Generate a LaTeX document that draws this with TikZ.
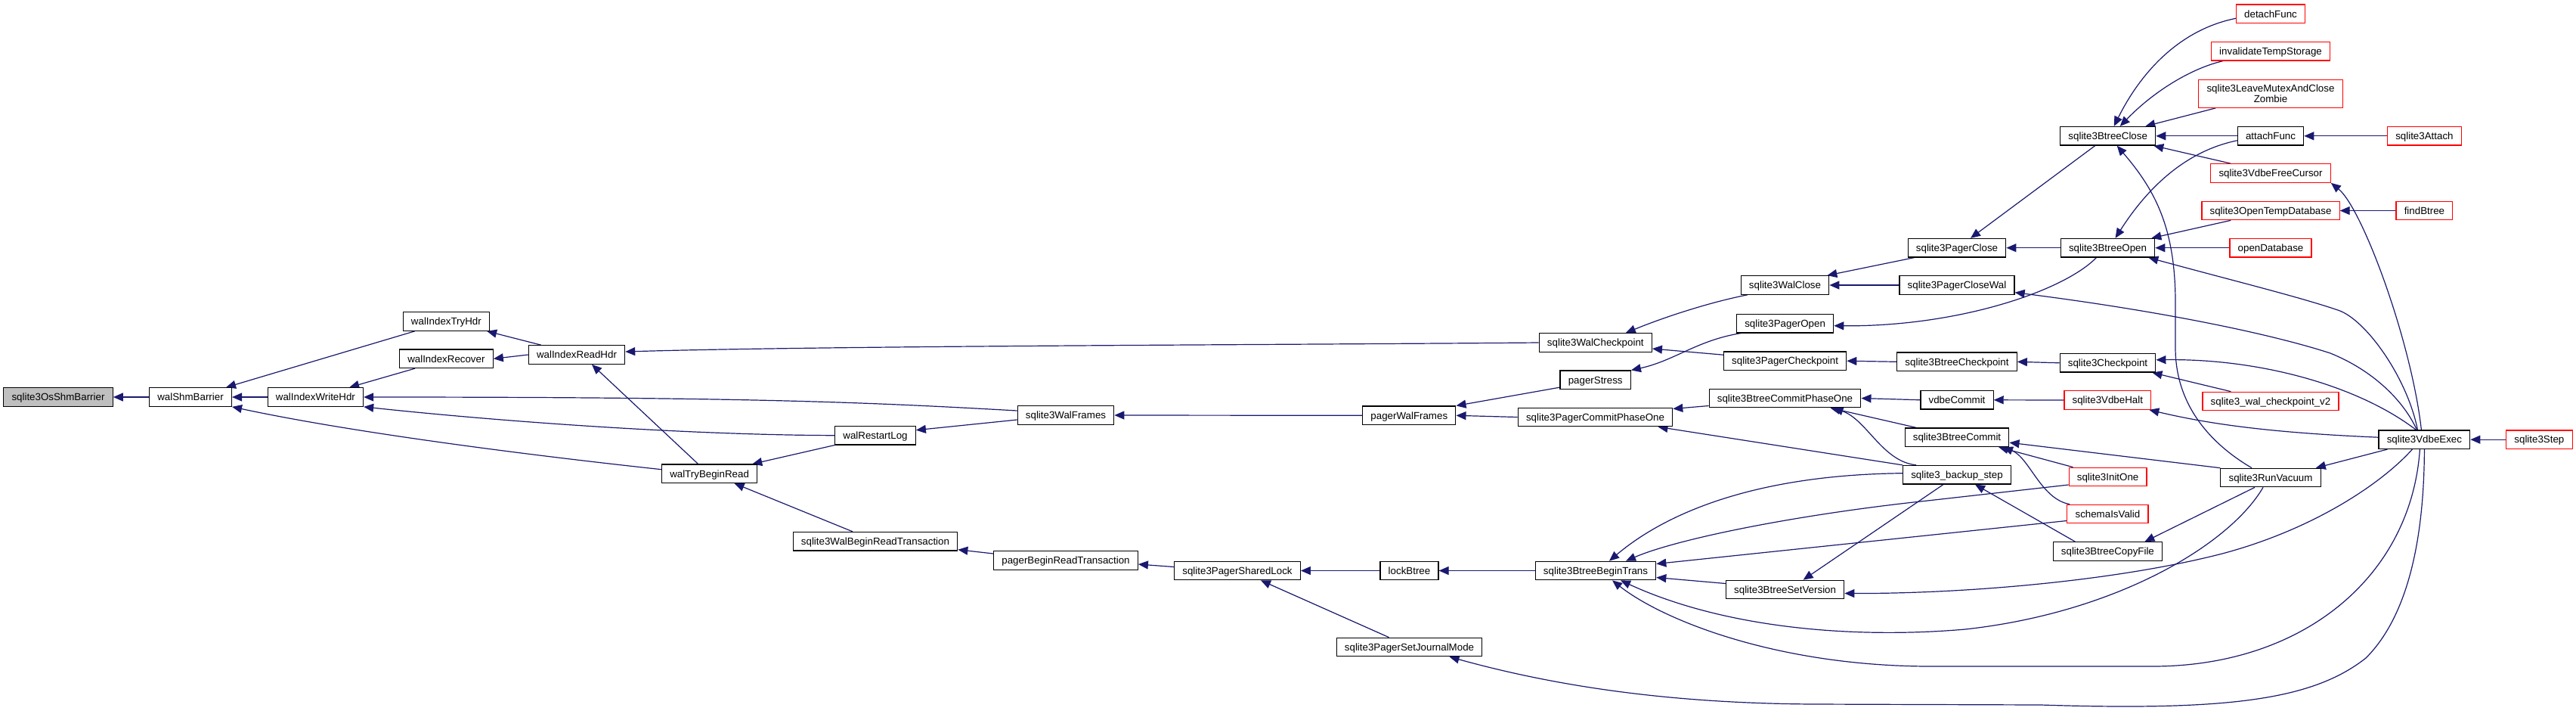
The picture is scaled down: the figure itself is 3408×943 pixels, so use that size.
\documentclass[tikz,border=0pt]{standalone}
\usepackage{fontspec}
\setmainfont{Liberation Sans}
\usetikzlibrary{arrows.meta}
\pgfdeclarelayer{background}
\pgfsetlayers{background,main}
\definecolor{edgec}{HTML}{191970}
\definecolor{rootc}{HTML}{BFBFBF}
\definecolor{redb}{HTML}{FF0000}
\begin{document}
\begin{tikzpicture}[x=1pt,y=-1pt,
  fnb/.style={draw=black, line width=1.2pt, fill=white, rectangle, inner xsep=10.7pt, inner ysep=0pt, minimum height=24.5pt, font=\fontsize{13.33}{13.5}\selectfont},
  fn/.style={fnb, text height=12.5pt, text depth=3pt},
  redn/.style={fn, draw=redb},
  root/.style={fn, fill=rootc},
  edge/.style={draw=edgec, line width=1.2pt, {Triangle[length=13pt,width=11pt]}-}
]
\path[use as bounding box] (0,0) rectangle (3408,943);

% nodes
\node[root] (osb) at (77,525) {sqlite3OsShmBarrier};
\node[fn] (wsb) at (252,525) {walShmBarrier};
\node[fn] (wiwh) at (417.4,525) {walIndexWriteHdr};
\node[fn] (withr) at (590.4,425) {walIndexTryHdr};
\node[fn] (wirec) at (590.4,474.3) {walIndexRecover};
\node[fn] (wirh) at (763,469) {walIndexReadHdr};
\node[fn] (wfr) at (1410,549) {sqlite3WalFrames};
\node[fn] (wrl) at (1158,575.7) {walRestartLog};
\node[fn] (wtbr) at (938.6,626.3) {walTryBeginRead};
\node[fn] (wbrt) at (1158,715.7) {sqlite3WalBeginReadTransaction};
\node[fn] (pbrt) at (1410,741) {pagerBeginReadTransaction};
\node[fn] (psl) at (1637,754.5) {sqlite3PagerSharedLock};
\node[fn] (lbt) at (1864.5,754.5) {lockBtree};
\node[fn] (bbt) at (2111,754.5) {sqlite3BtreeBeginTrans};
\node[fn] (psjm) at (1864.5,855.5) {sqlite3PagerSetJournalMode};
\node[fn] (pwf) at (1864.3,549.3) {pagerWalFrames};
\node[fn] (pst) at (2110.7,502.3) {pagerStress};
\node[fn] (pcpo) at (2110.5,551.5) {sqlite3PagerCommitPhaseOne};
\node[fn] (wcp) at (2110.8,453) {sqlite3WalCheckpoint};
\node[fn] (wcl) at (2361.5,377) {sqlite3WalClose};
\node[fn] (pop) at (2361.6,427.7) {sqlite3PagerOpen};
\node[fn] (pcp) at (2361.6,477.2) {sqlite3PagerCheckpoint};
\node[fn] (pcl) at (2589,327.7) {sqlite3PagerClose};
\node[fn] (pcw) at (2589,377) {sqlite3PagerCloseWal};
\node[fn] (bcp) at (2589,478.3) {sqlite3BtreeCheckpoint};
\node[fn] (bcpo) at (2361.5,526.5) {sqlite3BtreeCommitPhaseOne};
\node[fn] (vc) at (2589,528.8) {vdbeCommit};
\node[fn] (bc) at (2589,578.2) {sqlite3BtreeCommit};
\node[fn] (bs) at (2589,627.7) {sqlite3\_backup\_step};
\node[fn] (bsv) at (2361.6,779.5) {sqlite3BtreeSetVersion};
\node[fn] (bcl) at (2788.7,179.8) {sqlite3BtreeClose};
\node[fn] (bop) at (2788.5,327.7) {sqlite3BtreeOpen};
\node[fn] (ckp) at (2788.5,479.8) {sqlite3Checkpoint};
\node[redn] (vh) at (2788.3,529) {sqlite3VdbeHalt};
\node[redn] (io) at (2788.6,630.5) {sqlite3InitOne};
\node[redn] (siv) at (2788.4,679.5) {schemaIsValid};
\node[fn] (bcf) at (2788.4,729) {sqlite3BtreeCopyFile};
\node[redn] (df) at (3004,18.3) {detachFunc};
\node[redn] (its) at (3004,67.8) {invalidateTempStorage};
\node[fnb, draw=redb, align=center, minimum height=37pt] (lmz) at (3004,123.8) {sqlite3LeaveMutexAndClose\\Zombie};
\node[fn] (af) at (3004,179.8) {attachFunc};
\node[redn] (sa) at (3207.4,179.8) {sqlite3Attach};
\node[redn] (vfc) at (3004,229) {sqlite3VdbeFreeCursor};
\node[redn] (otd) at (3004,278.5) {sqlite3OpenTempDatabase};
\node[redn] (fb) at (3207.4,278.5) {findBtree};
\node[redn] (od) at (3004,327.7) {openDatabase};
\node[redn] (wcv2) at (3004,530.5) {sqlite3\_wal\_checkpoint\_v2};
\node[fn] (rv) at (3004,631.5) {sqlite3RunVacuum};
\node[fn] (ve) at (3207.4,581.2) {sqlite3VdbeExec};
\node[redn] (st) at (3359.4,581.2) {sqlite3Step};

\begin{pgfonlayer}{background}
\fill[white] (0,0) rectangle (3408,943);
% edges (arrow at the called function)
\draw[edge] (osb.east) -- (wsb.west);
\draw[edge] ([xshift=-8pt]wsb.north east) -- ([xshift=16pt]withr.south west);
\draw[edge] (wsb.east) -- (wiwh.west);
\draw[edge] (wsb.south east) .. controls (457,570) and (675,599) .. ([yshift=5.6pt]wtbr.west);
\draw[edge] ([xshift=-4pt]withr.south east) -- ([xshift=17pt]wirh.north west);
\draw[edge] ([xshift=-19pt]wiwh.north east) -- ([xshift=21pt]wirec.south west);
\draw[edge] (wiwh.east) .. controls (1000,525) and (1150,532) .. ([yshift=6pt]wfr.west);
\draw[edge] (wiwh.south east) .. controls (650,556) and (900,575) .. (wrl.west);
\draw[edge] (wirec.east) -- (wirh.west);
\draw[edge] ([yshift=4pt]wirh.east) .. controls (1100,457) and (1700,456) .. (wcp.west);
\draw[edge] ([xshift=20pt]wirh.south) -- ([xshift=-15pt]wtbr.north);
\draw[edge] ([yshift=7pt]wrl.east) -- ([yshift=-6pt]wfr.west);
\draw[edge] ([xshift=-7pt]wtbr.north east) -- (wrl.south west);
\draw[edge] ([xshift=33pt]wtbr.south) -- ([xshift=-30pt]wbrt.north);
\draw[edge] ([yshift=-11pt]wbrt.east) -- ([yshift=9pt]pbrt.west);
\draw[edge] ([yshift=-5pt]pbrt.east) -- ([yshift=5pt]psl.west);
\draw[edge] (psl.east) -- (lbt.west);
\draw[edge] ([xshift=31pt]psl.south) -- ([xshift=-27pt]psjm.north);
\draw[edge] (lbt.east) -- (bbt.west);
\draw[edge] (wfr.east) -- (pwf.west);
\draw[edge] (pwf.north east) -- ([yshift=3pt]pst.south west);
\draw[edge] (pwf.east) -- (pcpo.west);
\draw[edge] ([xshift=40pt]wcp.north) .. controls (2200,420) and (2260,400) .. ([xshift=9pt]wcl.south west);
\draw[edge] ([yshift=-8pt]wcp.east) -- ([yshift=8pt]pcp.west);
\draw[edge] (pst.north east) .. controls (2215,477) and (2245,450) .. ([xshift=6pt]pop.south west);
\draw[edge] ([xshift=-3pt]wcl.north east) -- ([xshift=9pt]pcl.south west);
\draw[edge] (wcl.east) -- (pcw.west);
\draw[edge] ([yshift=-3pt]pop.east) .. controls (2590,432) and (2730,385) .. ([xshift=-15pt]bop.south);
\draw[edge] (pcl.east) -- (bop.west);
\draw[edge] ([xshift=18pt]pcl.north) -- ([xshift=-17pt]bcl.south);
\draw[edge] ([yshift=-9.7pt]pcw.east) .. controls (2850,410) and (3000,440) .. (3083,467) .. controls (3140,490) and (3180,530) .. ([xshift=-10pt]ve.north);
\draw[edge] (pcp.east) -- (bcp.west);
\draw[edge] (bcp.east) -- (ckp.west);
\draw[edge] ([yshift=11pt]pcpo.east) -- ([yshift=-10pt]bcpo.west);
\draw[edge] ([xshift=83pt]pcpo.south) -- (bs.north west);
\draw[edge] (bcpo.east) -- (vc.west);
\draw[edge] ([xshift=60pt]bcpo.south) -- ([xshift=-54pt]bc.north);
\draw[edge] ([xshift=64pt]bcpo.south) .. controls (2470,555) and (2490,610) .. ([xshift=-54pt]bs.north);
\draw[edge] (vc.east) -- (vh.west);
\draw[edge] ([yshift=-7pt]bc.east) -- (rv.north west);
\draw[edge] ([xshift=55pt]bc.south) -- ([xshift=6pt]io.north west);
\draw[edge] ([xshift=61pt]bc.south) .. controls (2685,605) and (2700,660) .. ([xshift=4pt]siv.north west);
\draw[edge] ([xshift=18pt]bbt.north) .. controls (2190,690) and (2300,628) .. ([yshift=2pt]bs.west);
\draw[edge] ([xshift=40pt]bbt.north) .. controls (2220,712) and (2380,680) .. (2550,662) -- ([yshift=-10.5pt]io.west);
\draw[edge] ([yshift=9pt]bbt.east) -- ([yshift=-9pt]siv.west);
\draw[edge] ([yshift=-9pt]bbt.east) -- ([yshift=8pt]bsv.west);
\draw[edge] ([xshift=24pt]bsv.north) -- ([xshift=-18pt]bs.south);
\draw[edge] ([xshift=24pt]bs.south) -- ([xshift=-43pt]bcf.north);
\draw[edge] ([xshift=33pt]bbt.south) .. controls (2280,830) and (2450,845) .. (2600,832) .. controls (2800,810) and (2950,720) .. ([xshift=-10pt]rv.south);
\draw[edge] ([yshift=-5pt]bsv.east) .. controls (2600,785) and (2800,768) .. (2940,732) .. controls (3060,700) and (3150,640) .. ([xshift=-16pt]ve.south);
\draw[edge] ([xshift=22pt]bbt.south) .. controls (2200,820) and (2350,880) .. (2550,881) -- (2850,881) .. controls (3050,880) and (3190,760) .. ([xshift=-6pt]ve.south);
\draw[edge] ([xshift=53pt]psjm.south) .. controls (2050,905) and (2200,930) .. (2400,931) -- (2700,932) .. controls (2950,940) and (3060,925) .. (3130,870) .. controls (3190,810) and (3207,700) .. (ve.south);
\draw[edge] ([xshift=8pt]bcl.north) .. controls (2830,100) and (2880,40) .. ([yshift=-6pt]df.west);
\draw[edge] ([xshift=16pt]bcl.north) .. controls (2850,120) and (2900,90) .. ([xshift=16pt]its.south west);
\draw[edge] ([xshift=-14pt]bcl.north east) -- ([xshift=23pt]lmz.south west);
\draw[edge] (bcl.east) -- (af.west);
\draw[edge] ([xshift=-3pt]bcl.south east) -- ([xshift=27pt]vfc.north west);
\draw[edge] (af.east) -- (sa.west);
\draw[edge] ([xshift=10pt]bop.north) .. controls (2840,250) and (2890,200) .. ([yshift=-6pt]af.west);
\draw[edge] (otd.east) -- (fb.west);
\draw[edge] ([xshift=-5pt]bop.north east) -- ([xshift=39pt]otd.south west);
\draw[edge] (bop.east) -- (od.west);
\draw[edge] ([xshift=-9pt]bop.south east) .. controls (2950,370) and (3040,392) .. (3093,410) .. controls (3130,422) and (3185,500) .. ([xshift=-9pt]ve.north);
\draw[edge] ([yshift=4pt]ckp.east) .. controls (2990,474) and (3120,510) .. ([xshift=-11pt]ve.north);
\draw[edge] (vfc.south east) .. controls (3125,275) and (3190,450) .. ([xshift=-4pt]ve.north);
\draw[edge] ([xshift=-3pt]vh.south east) .. controls (2920,560) and (3000,572) .. ([yshift=3pt]ve.west);
\draw[edge] (ve.east) -- (st.west);
\draw[edge] ([xshift=-7pt]rv.north east) -- ([xshift=12pt]ve.south west);
\draw[edge] ([xshift=-5pt]ckp.south east) -- ([xshift=38pt]wcv2.north west);
\draw[edge] ([xshift=12pt]bcl.south) .. controls (2850,250) and (2878,300) .. (2878,400) -- (2878,460) .. controls (2878,540) and (2930,590) .. ([xshift=-25pt]rv.north);
\draw[edge] ([xshift=49pt]bcf.north) -- ([xshift=-21pt]rv.south);
\end{pgfonlayer}
\end{tikzpicture}
\end{document}
